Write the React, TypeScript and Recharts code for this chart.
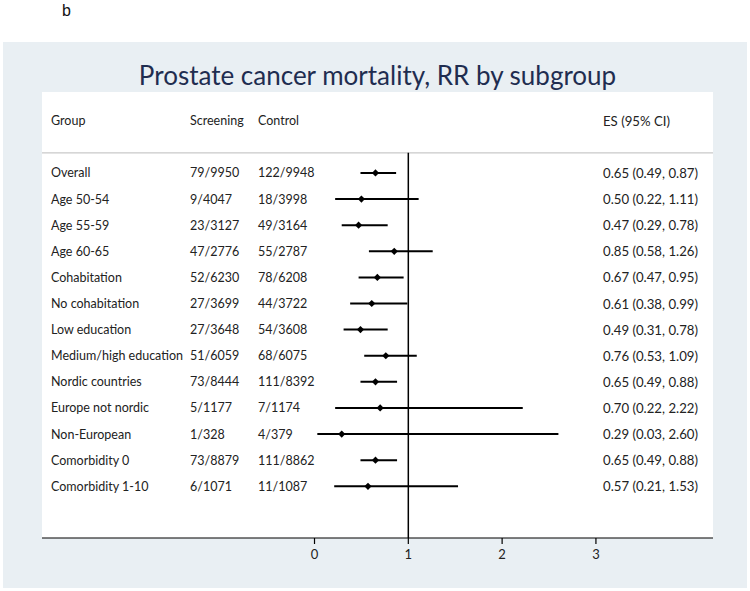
import React from "react";
import { ScatterChart, Scatter, XAxis, YAxis, ErrorBar, ReferenceLine } from "recharts";

const groups = [
  "Overall", "Age 50-54", "Age 55-59", "Age 60-65", "Cohabitation", "No cohabitation",
  "Low education", "Medium/high education", "Nordic countries", "Europe not nordic",
  "Non-European", "Comorbidity 0", "Comorbidity 1-10",
];
const screening = [
  "79/9950", "9/4047", "23/3127", "47/2776", "52/6230", "27/3699", "27/3648",
  "51/6059", "73/8444", "5/1177", "1/328", "73/8879", "6/1071",
];
const control = [
  "122/9948", "18/3998", "49/3164", "55/2787", "78/6208", "44/3722", "54/3608",
  "68/6075", "111/8392", "7/1174", "4/379", "111/8862", "11/1087",
];
const es = [0.65, 0.5, 0.47, 0.85, 0.67, 0.61, 0.49, 0.76, 0.65, 0.7, 0.29, 0.65, 0.57];
const lo = [0.49, 0.22, 0.29, 0.58, 0.47, 0.38, 0.31, 0.53, 0.49, 0.22, 0.03, 0.49, 0.21];
const hi = [0.87, 1.11, 0.78, 1.26, 0.95, 0.99, 0.78, 1.09, 0.88, 2.22, 2.6, 0.88, 1.53];
const xTicks = [0, 1, 2, 3];
const headers = { group: "Group", screening: "Screening", control: "Control", es: "ES (95% CI)" };

const rows = groups.map((g, i) => ({
  x: es[i],
  y: i,
  err: [es[i] - lo[i], hi[i] - es[i]],
  group: g,
  scr: screening[i],
  ctl: control[i],
  label: `${es[i].toFixed(2)} (${lo[i].toFixed(2)}, ${hi[i].toFixed(2)})`,
}));
const headerRow = [{ x: 0, y: -2 }];

const FONT = "Lato, 'Open Sans', sans-serif";
const COL = { group: 51, scr: 190, ctl: 258, es: 603 };
const TXT = "#222";
const FS = 12.5;
const FS_ES = 13.2;

const RowShape = (props: any) => {
  const { cx, cy, payload } = props;
  if (cx == null || cy == null) return null;
  const d = 3.6;
  return (
    <g>
      <polygon
        points={`${cx - d},${cy} ${cx},${cy - d} ${cx + d},${cy} ${cx},${cy + d}`}
        fill="#000"
      />
      <g fontFamily={FONT} fontSize={FS} fill={TXT}>
        <text x={COL.group} y={cy} dominantBaseline="central">{payload.group}</text>
        <text x={COL.scr} y={cy} dominantBaseline="central">{payload.scr}</text>
        <text x={COL.ctl} y={cy} dominantBaseline="central">{payload.ctl}</text>
        <text x={COL.es} y={cy} dominantBaseline="central" fontSize={FS_ES}>{payload.label}</text>
      </g>
    </g>
  );
};

const HeaderShape = (props: any) => {
  const { cy } = props;
  if (cy == null) return null;
  return (
    <g fontFamily={FONT} fontSize={FS} fill={TXT}>
      <text x={COL.group} y={cy} dominantBaseline="central">{headers.group}</text>
      <text x={COL.scr} y={cy} dominantBaseline="central">{headers.screening}</text>
      <text x={COL.ctl} y={cy} dominantBaseline="central">{headers.control}</text>
      <text x={COL.es} y={cy} dominantBaseline="central" fontSize={FS_ES}>{headers.es}</text>
    </g>
  );
};

export default function App() {
  return (
    <div style={{ position: "absolute", left: 0, top: 0, width: 750, height: 591, background: "#fff", overflow: "hidden" }}>
      <div style={{ position: "absolute", left: 62, top: 2, fontFamily: "'Liberation Sans', Arial, sans-serif", fontSize: 16, color: "#111", fontWeight: 400 }}>b</div>
      <div style={{ position: "absolute", left: 3, top: 42, width: 744, height: 546, background: "#e9eff3" }} />
      <div style={{ position: "absolute", left: 42, top: 92, width: 671, height: 446, background: "#fff" }} />
      <div
        style={{
          position: "absolute", left: 0, top: 58, width: 755, textAlign: "center",
          fontFamily: FONT, fontSize: 26, color: "#1f2d50", lineHeight: "34px",
        }}
      >
        Prostate cancer mortality, RR by subgroup
      </div>
      <div style={{ position: "absolute", left: 0, top: 0 }}>
        <ScatterChart width={750} height={591} margin={{ top: 92, right: 37, bottom: 23, left: 42 }}>
          <XAxis
            type="number"
            dataKey="x"
            domain={[-2.905, 4.248]}
            ticks={xTicks}
            allowDataOverflow
            height={30}
            axisLine={{ stroke: "#000", strokeWidth: 1.2 }}
            tickLine={{ stroke: "#000", strokeWidth: 1.2 }}
            tickSize={6}
            tickMargin={6}
            tick={{ fill: "#222", fontSize: 13, fontFamily: FONT }}
          />
          <YAxis type="number" dataKey="y" domain={[-3.1, 13.98]} reversed hide width={0} allowDataOverflow />
          <ReferenceLine y={-0.77} stroke="#c9c9c9" strokeWidth={1.2} />
          <ReferenceLine
            segment={[{ x: 1, y: -0.77 }, { x: 1, y: 13.98 }]}
            stroke="#000"
            strokeWidth={1.5}
          />
          <Scatter data={headerRow} shape={HeaderShape} isAnimationActive={false} />
          <Scatter data={rows} shape={RowShape} isAnimationActive={false}>
            <ErrorBar dataKey="err" direction="x" width={0} stroke="#000" strokeWidth={2} />
          </Scatter>
        </ScatterChart>
      </div>
    </div>
  );
}
